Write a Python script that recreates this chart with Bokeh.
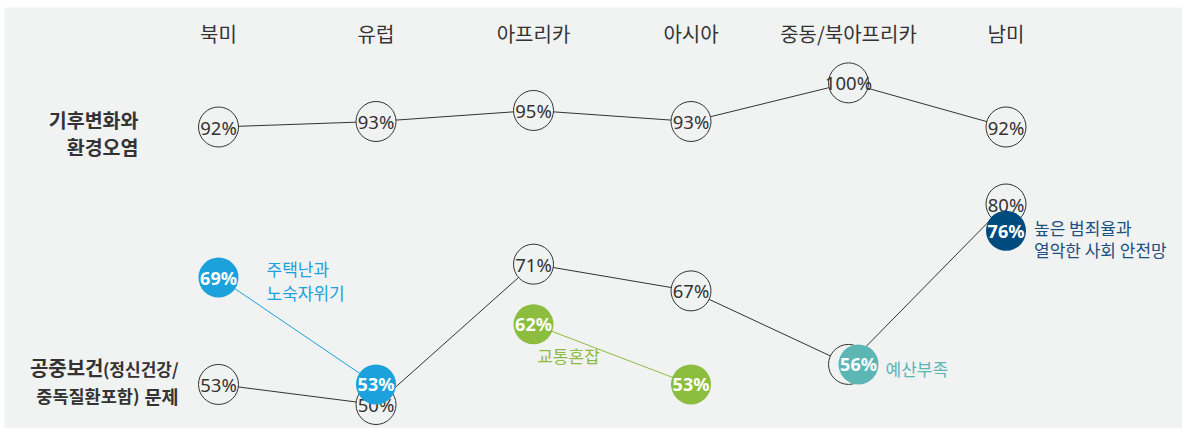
from bokeh.plotting import figure
from bokeh.models import Range1d, ColumnDataSource
from bokeh.core.properties import value
from bokeh.transform import dodge
from bokeh.embed import file_html
from bokeh.resources import INLINE

# ---------------- data ----------------
regions = ["북미", "유럽", "아프리카", "아시아", "중동/북아프리카", "남미"]
climate = [92, 93, 95, 93, 100, 92]            # 기후변화와 환경오염
health = [53, 50, 71, 67, 56, 80]              # 공중보건 문제
health_label_shown = [1, 1, 1, 1, 0, 1]        # 56% hidden under highlight

housing_regions = ["북미", "유럽"]
housing = [69, 53]                             # 주택난과 노숙자위기
traffic_regions = ["아프리카", "아시아"]
traffic = [62, 53]                             # 교통혼잡
budget_regions = ["중동/북아프리카"]
budget = [56]                                  # 예산부족
crime_regions = ["남미"]
crime = [76]                                   # 높은 범죄율과 열악한 사회 안전망

# ---------------- style ----------------
BG = "#f1f2f2"
DARK = "#333333"
BLUE = "#1ba1dc"
GREEN = "#8cbd3f"
TEAL = "#5bb6b4"
NAVY = "#004b7d"
NAVY_TXT = "#1d4f80"
KR = value("Noto Sans CJK KR")
EN = value("Noto Sans")

W, H = 1182, 428
BL, BT = 4, 7                  # white strip left / top
FW, FH = W - BL, H - BT        # frame size
KX = 157.5                     # px per column
XS = -(218 - BL) / KX
XE = XS + FW / KX
KB = 6.683                     # px per % (bottom group)
YB_TOP = 50 + (404 - BT) / KB
YB_BOT = YB_TOP - FH / KB
KT = 5.515                     # px per % (top group)
YT_TOP = 92 + (126.5 - BT) / KT
YT_BOT = YT_TOP - FH / KT


def idx(names):
    return [regions.index(n) for n in names]


def px_x(px):
    return XS + (px - BL) / KX


def px_yt(py):
    return YT_TOP - (py - BT) / KT


def px_yb(py):
    return YB_TOP - (py - BT) / KB


p = figure(width=W, height=H, x_range=Range1d(XS, XE), y_range=Range1d(YB_BOT, YB_TOP),
           output_backend="svg", toolbar_location=None,
           min_border_left=BL, min_border_top=BT, min_border_right=0, min_border_bottom=0,
           x_axis_location=None, y_axis_location=None)
p.extra_y_ranges = {"top": Range1d(YT_BOT, YT_TOP)}
p.grid.visible = False
p.outline_line_color = None
p.background_fill_color = BG
p.border_fill_color = "white"

xi = list(range(len(regions)))


def kr_text(x, y, t, size, color=DARK, bold=False, align="left", top=False,
            xo=0, yo=0):
    kw = dict(y_range_name="top") if top else {}
    p.text(x, y, text=t, text_font=KR, text_font_size=size,
           text_font_style="bold" if bold else "normal", text_color=color,
           text_align=align, text_baseline="middle", x_offset=xo, y_offset=yo, **kw)


# headers
kr_text(xi, [px_yt(33)] * len(regions), regions, "20px", align="center", top=True)

# row labels
kr_text([px_x(138)], [px_yt(119)], ["기후변화와"], "19.5px", bold=True, align="right", top=True)
kr_text([px_x(138)], [px_yt(146)], ["환경오염"], "19.5px", bold=True, align="right", top=True)
kr_text([px_x(103)], [px_yb(367)], ["공중보건"], "20px", bold=True, align="right")
kr_text([px_x(178)], [px_yb(368)], ["(정신건강/"], "17px", bold=True, align="right")
kr_text([px_x(139)], [px_yb(395)], ["중독질환포함)"], "17.5px", bold=True, align="right")
kr_text([px_x(178)], [px_yb(395)], ["문제"], "18.5px", bold=True, align="right")

# top group
p.line(xi, climate, y_range_name="top", line_color=DARK, line_width=1)
p.scatter(xi, climate, y_range_name="top", size=40, fill_color=BG,
          line_color=DARK, line_width=1)
p.text(xi, climate, text=[f"{v}%" for v in climate], y_range_name="top",
       text_font=EN, text_font_size="18.5px", text_color=DARK,
       text_align="center", text_baseline="middle")

# bottom main line
p.line(xi, health, line_color=DARK, line_width=1)
p.scatter(xi, health, size=40, fill_color=BG, line_color=DARK, line_width=1)
p.text(xi, health, text=[f"{v}%" for v in health], text_alpha=health_label_shown,
       text_font=EN, text_font_size="18.5px", text_color=DARK,
       text_align="center", text_baseline="middle")


# highlight series
def series(names, vals, color, dx=0.0):
    src = ColumnDataSource(dict(x=idx(names), y=vals, t=[f"{v}%" for v in vals]))
    xx = dodge("x", dx) if dx else "x"
    if len(vals) > 1:
        p.line("x", "y", source=src, line_color=color, line_width=1)
    p.scatter(xx, "y", source=src, size=40, fill_color=color, line_color=None)
    p.text(xx, "y", text="t", source=src, text_font=EN, text_font_size="18px",
           text_font_style="bold", text_color="white",
           text_align="center", text_baseline="middle")


series(housing_regions, housing, BLUE)
series(traffic_regions, traffic, GREEN)
series(budget_regions, budget, TEAL, dx=10 / KX)
series(crime_regions, crime, NAVY)

# category annotations (anchored on their first point, offset in px)
kr_text(idx(housing_regions[:1]), housing[:1], ["주택난과"], "17px", color=BLUE, xo=48, yo=-9)
kr_text(idx(housing_regions[:1]), housing[:1], ["노숙자위기"], "17px", color=BLUE, xo=48, yo=15)
kr_text(idx(traffic_regions[:1]), traffic[:1], ["교통혼잡"], "17px", color=GREEN,
        align="center", xo=35, yo=31)
kr_text(idx(budget_regions), budget, ["예산부족"], "17px", color=TEAL, xo=37, yo=4)
kr_text(idx(crime_regions), crime, ["높은 범죄율과"], "17px", color=NAVY_TXT, xo=28, yo=-3)
kr_text(idx(crime_regions), crime, ["열악한 사회 안전망"], "17px", color=NAVY_TXT, xo=28, yo=19)

open("out.html", "w").write(file_html(p, INLINE))
